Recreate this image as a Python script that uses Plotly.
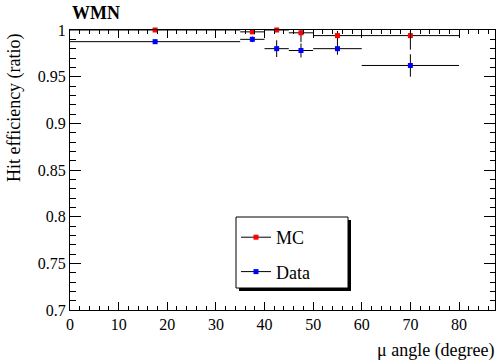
import plotly.graph_objects as go

# ---- data ----
bin_center = [17.5, 37.5, 42.5, 47.5, 55.0, 70.0]
bin_half_width = [17.5, 2.5, 2.5, 2.5, 5.0, 10.0]

mc_eff = [1.000, 0.998, 1.000, 0.997, 0.994, 0.994]
mc_err_up = [0.000, 0.002, 0.000, 0.003, 0.005, 0.005]
mc_err_dn = [0.001, 0.002, 0.001, 0.010, 0.008, 0.015]

data_eff = [0.9875, 0.990, 0.980, 0.978, 0.980, 0.962]
data_err = [0.0025, 0.003, 0.009, 0.0075, 0.0065, 0.012]

series_names = ["MC", "Data"]
series_colors = ["#ff0000", "#0000ff"]

x_range = [0, 87.4]
y_range = [0.7, 1.0]

FONT = "Liberation Serif, Times New Roman, serif"

fig = go.Figure()

fig.add_trace(go.Scatter(
    x=bin_center, y=mc_eff, mode="markers", name=series_names[0], showlegend=False,
    marker=dict(symbol="square", size=5, color=series_colors[0]),
    error_x=dict(type="data", array=bin_half_width, color="black", thickness=1, width=0),
    error_y=dict(type="data", array=mc_err_up, arrayminus=mc_err_dn, symmetric=False,
                 color="black", thickness=1, width=0),
    cliponaxis=False,
))
fig.add_trace(go.Scatter(
    x=bin_center, y=data_eff, mode="markers", name=series_names[1], showlegend=False,
    marker=dict(symbol="square", size=5, color=series_colors[1]),
    error_x=dict(type="data", array=bin_half_width, color="black", thickness=1, width=0),
    error_y=dict(type="data", array=data_err, color="black", thickness=1, width=0),
    cliponaxis=False,
))
# legend entries (line + marker, as in the ROOT legend)
for i, (nm, col) in enumerate(zip(series_names, series_colors)):
    fig.add_trace(go.Scatter(
        x=[None], y=[None], mode="lines+markers", name=nm, legendgroup=f"g{i}",
        line=dict(color="black", width=1),
        marker=dict(symbol="square", size=5, color=col),
    ))

L, R, T, B = 70, 5, 30, 53
W, H = 500, 363
pw, ph = W - L - R, H - T - B

def px_x(p):
    return (p - L) / pw

def px_y(p):
    return (H - B - p) / ph

# legend box with shadow
fig.add_shape(type="rect", xref="paper", yref="paper",
              x0=px_x(239), x1=px_x(351), y0=px_y(220), y1=px_y(291),
              fillcolor="black", line=dict(width=0), layer="above")
fig.add_shape(type="rect", xref="paper", yref="paper",
              x0=px_x(236), x1=px_x(348), y0=px_y(217), y1=px_y(288),
              fillcolor="white", line=dict(color="black", width=1), layer="above")

fig.add_annotation(text="<b>WMN</b>", xref="paper", yref="paper",
                   x=0, y=px_y(13), xanchor="left", yanchor="middle",
                   showarrow=False, font=dict(family=FONT, size=18, color="black"))
fig.add_annotation(text="μ angle (degree)", xref="paper", yref="paper",
                   x=px_x(497), y=px_y(350), xanchor="right", yanchor="middle",
                   showarrow=False, font=dict(family=FONT, size=18, color="black"))
fig.add_annotation(text="Hit efficiency (ratio)", xref="paper", yref="paper",
                   x=px_x(14), y=px_y(107), xanchor="center", yanchor="middle",
                   textangle=-90, showarrow=False,
                   font=dict(family=FONT, size=18, color="black"))

axis_common = dict(showgrid=False, zeroline=False, showline=True, linecolor="black",
                   linewidth=1, mirror="allticks", ticks="inside", tickcolor="black",
                   tickfont=dict(family=FONT, size=16, color="black"))

fig.update_xaxes(range=x_range, dtick=10, tick0=0, ticklen=8, tickwidth=1,
                 minor=dict(dtick=2, ticklen=4, ticks="inside", tickcolor="black"),
                 **axis_common)
fig.update_yaxes(range=y_range, dtick=0.05, tick0=0.7, ticklen=11, tickwidth=1,
                 minor=dict(dtick=0.01, ticklen=5.5, ticks="inside", tickcolor="black"),
                 **axis_common)

fig.update_layout(
    width=W, height=H,
    margin=dict(l=L, r=R, t=T, b=B, pad=0),
    paper_bgcolor="white", plot_bgcolor="white",
    font=dict(family=FONT, color="black"),
    showlegend=True,
    legend=dict(x=px_x(236), y=px_y(219), xanchor="left", yanchor="top",
                bgcolor="rgba(0,0,0,0)", borderwidth=0,
                font=dict(family=FONT, size=18, color="black"),
                traceorder="grouped", tracegroupgap=8),
)

fig.write_html("out.html", config={"displayModeBar": False},
               post_script="document.body.style.margin='0';document.body.style.overflow='hidden';")
